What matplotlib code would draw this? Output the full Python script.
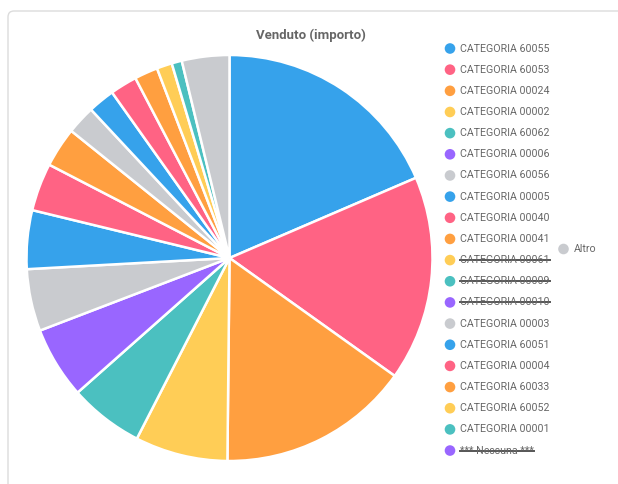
import matplotlib
matplotlib.use("Agg")
import matplotlib.pyplot as plt
from matplotlib.patches import Circle, FancyBboxPatch

plt.rcParams['font.family'] = ['Roboto', 'DejaVu Sans']

# Data (percentage of "importo"), None = hidden in legend (struck through)
categories = ["CATEGORIA 60055", "CATEGORIA 60053", "CATEGORIA 00024", "CATEGORIA 00002",
              "CATEGORIA 60062", "CATEGORIA 00006", "CATEGORIA 60056", "CATEGORIA 00005",
              "CATEGORIA 00040", "CATEGORIA 00041", "CATEGORIA 00061", "CATEGORIA 00009",
              "CATEGORIA 00010", "CATEGORIA 00003", "CATEGORIA 60051", "CATEGORIA 00004",
              "CATEGORIA 60033", "CATEGORIA 60052", "CATEGORIA 00001", "*** Nessuna ***",
              "Altro"]
values = [18.54, 16.33, 15.30, 7.38, 5.92, 5.72, 4.94, 4.67, 3.81, 3.17,
          None, None, None, 2.28, 2.13, 2.15, 1.86, 1.22, 0.81, None,
          3.78]

palette = ['#36a2eb', '#ff6384', '#ff9f40', '#ffcd56', '#4bc0c0', '#9966ff', '#c9cbcf']
colors = [palette[i % len(palette)] for i in range(len(categories))]

W, H = 618, 484
fig = plt.figure(figsize=(W / 100, H / 100), dpi=100)

# overlay in pixel coords
ov = fig.add_axes([0, 0, 1, 1])
ov.set_xlim(0, W)
ov.set_ylim(H, 0)
ov.axis('off')
ov.add_patch(FancyBboxPatch((8, 11), 640, 500, boxstyle="round,pad=0,rounding_size=6",
                            facecolor='white', edgecolor='#dcdcdc', linewidth=1))

# pie
cx, cy, r = 229.5, 258, 203
ax = fig.add_axes([(cx - r) / W, (H - cy - r) / H, 2 * r / W, 2 * r / H])
vis = [(v, c) for v, c in zip(values, colors) if v is not None]
ax.pie([v for v, c in vis], colors=[c for v, c in vis], startangle=90, counterclock=False,
       wedgeprops=dict(edgecolor='white', linewidth=1.8))
ax.set_xlim(-1, 1)
ax.set_ylim(-1, 1)
ax.axis('off')

ov.text(311, 35, "Venduto (importo)", ha='center', va='center', fontsize=9.5,
        fontweight='bold', color='#666666')

# legend
texts = []
y0, dy = 48.5, 21.16
for i, (lab, v, c) in enumerate(zip(categories[:-1], values[:-1], colors[:-1])):
    y = y0 + i * dy
    ov.add_patch(Circle((450, y), 5.3, facecolor=c, edgecolor='none'))
    t = ov.text(460, y, lab, ha='left', va='center', fontsize=7.65, color='#666666')
    if v is None:
        texts.append((t, y))
ov.add_patch(Circle((563.5, 249), 5.3, facecolor=colors[-1], edgecolor='none'))
ov.text(574, 249, categories[-1], ha='left', va='center', fontsize=7.65, color='#666666')

fig.canvas.draw()
rend = fig.canvas.get_renderer()
for t, y in texts:
    bb = t.get_window_extent(rend)
    ov.plot([bb.x0, bb.x1], [y, y], color='#555555', linewidth=1.4)

fig.savefig("out.png", dpi=100)
